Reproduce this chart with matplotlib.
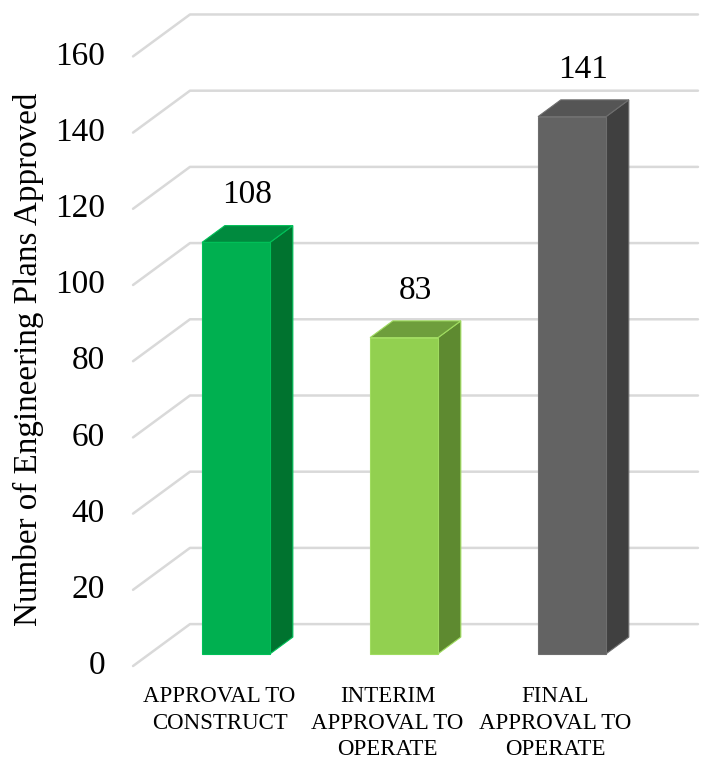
import numpy as np
import matplotlib
matplotlib.use('Agg')
import matplotlib.pyplot as plt
from matplotlib.patches import Polygon

plt.rcParams['font.family'] = 'Liberation Serif'

# data
categorias = ['APPROVAL TO\nCONSTRUCT', 'INTERIM\nAPPROVAL TO\nOPERATE', 'FINAL\nAPPROVAL TO\nOPERATE']
valores = [108, 83, 141]
ticks_y = [0, 20, 40, 60, 80, 100, 120, 140, 160]
#colores: frente, arriba, lado
col_frente = ['#00b050', '#92d050', '#636363']
col_arriba = ['#008a3e', '#6e9e3c', '#555555']
col_lado = ['#00732f', '#5e8a30', '#404040']
col_borde = ['#00c058', '#a0dc60', '#6e6e6e']

#geometria oblicua (unidades de categoria / unidades de valor)
DX = 0.339   #desplazamiento x del fondo
DY = 11.0    #desplazamiento y del fondo
x_pared = -0.515
x_fin = 2.848
prof_ini, prof_fin = 0.29, 0.69   #profundidad de la barra
media = 0.2024   #medio ancho de la barra

fig = plt.figure(figsize=(7.02, 7.61), dpi=100)
ax = fig.add_axes([0, 0, 1, 1])
ax.set_xlim(-1.307, 2.872)
ax.set_ylim(-24.93, 174.8)
ax.axis('off')

#lineas de la rejilla (pared lateral + pared de fondo)
for v in ticks_y:
    ax.plot([x_pared, x_pared + DX, x_fin], [v, v + DY, v + DY],
            color='#d9d9d9', lw=1.8, zorder=1, solid_capstyle='round')
    ax.text(x_pared - 0.167, v, str(v), ha='right', va='center', fontsize=24)

def barra(i, v, k):
    x0 = i - media + prof_ini * DX
    x1 = i + media + prof_ini * DX
    y0 = prof_ini * DY
    y1 = v + prof_ini * DY
    ddx = (prof_fin - prof_ini) * DX
    ddy = (prof_fin - prof_ini) * DY
    frente = [(x0, y0), (x1, y0), (x1, y1), (x0, y1)]
    arriba = [(x0, y1), (x1, y1), (x1 + ddx, y1 + ddy), (x0 + ddx, y1 + ddy)]
    lado = [(x1, y0), (x1 + ddx, y0 + ddy), (x1 + ddx, y1 + ddy), (x1, y1)]
    ax.add_patch(Polygon(lado, closed=True, fc=col_lado[k], ec=col_borde[k], lw=0.8, zorder=3))
    ax.add_patch(Polygon(arriba, closed=True, fc=col_arriba[k], ec=col_borde[k], lw=0.8, zorder=3))
    ax.add_patch(Polygon(frente, closed=True, fc=col_frente[k], ec=col_borde[k], lw=0.8, zorder=4))
    ax.text(i + (prof_ini + prof_fin) / 2 * DX, v + prof_fin * DY + 8, str(v),
            ha='center', va='center', fontsize=24, zorder=5)

for i, v in enumerate(valores):
    barra(i, v, i)

for i, c in enumerate(categorias):
    ax.text(i, -5.3, c, ha='center', va='top', fontsize=16.5, linespacing=1.34)

ax.text(-1.14, 80.4, 'Number of Engineering Plans Approved', rotation=90,
        ha='center', va='center', fontsize=23.9)

plt.savefig('out.png', dpi=100)
